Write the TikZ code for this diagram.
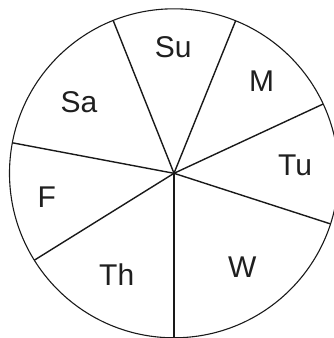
\documentclass[tikz,border=0pt]{standalone}
\usepackage{fontspec}
\setmainfont{Liberation Sans}
\begin{document}
\begin{tikzpicture}[x=1pt,y=-1pt,
  rim/.style={line width=1.1pt, draw=black!90},
  spoke/.style={line width=1.4pt, draw=black!90},
  lbl/.style={font=\fontsize{30}{36}\selectfont, text=black!88, inner sep=0pt}]
\useasboundingbox (0,0) rectangle (334,338);
\clip (0,0) rectangle (334,338);
\coordinate (c) at (174,173.3);
\draw[rim] (c) circle[radius=164.5pt];
\coordinate (pSuSa) at (113.2,20.5);
\coordinate (pSuM) at (235.6,20.8);
\coordinate (pMTu) at (323.2,104.0);
\coordinate (pTuW) at (330.5,223.9);
\coordinate (pWTh) at (174,337.8);
\coordinate (pThF) at (34.3,260.2);
\coordinate (pFSa) at (12.4,142.8);
\foreach \p in {pSuSa,pSuM,pMTu,pTuW,pWTh,pThF,pFSa}
  \draw[spoke] (c) -- (\p);
\node[lbl] (su) at (173.3,47.5) {Su};
\node[lbl] (m) at (261.7,81) {M};
\node[lbl] (tu) at (295,165.7) {Tu};
\node[lbl] (w) at (242.3,266.7) {W};
\node[lbl] (th) at (116.7,275) {Th};
\node[lbl] (f) at (46.7,197.3) {F};
\node[lbl] (sa) at (79,102.3) {Sa};
\end{tikzpicture}
\end{document}
